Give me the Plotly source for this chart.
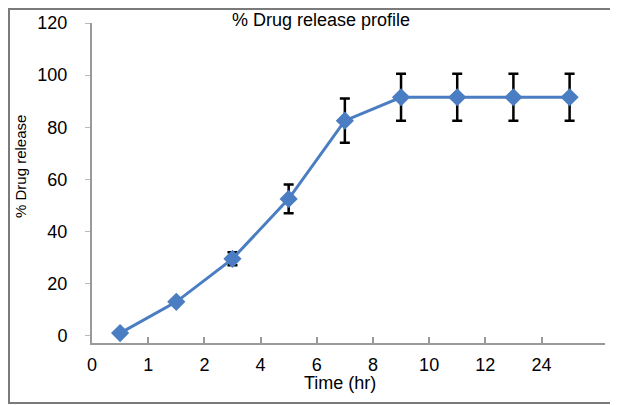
import plotly.graph_objects as go

time_labels = ["0", "1", "2", "4", "6", "8", "10", "12", "24"]
release = [1, 13, 29.5, 52.5, 82.5, 91.5, 91.5, 91.5, 91.5]
release_sd = [0, 0, 2.5, 5.5, 8.5, 9, 9, 9, 9]

# the page body has an 8px margin; the figure is sized to fill the rest
OFF = 8
W, H = 618 - OFF, 405 - OFF
ml, mr, mt, mb = 92 - OFF, 13, 23 - OFF, 62

idx = list(range(len(release)))
tick_pos = [i - 0.5 for i in range(len(time_labels))]

pw = W - ml - mr
ph = H - mt - mb


def px_x(p):
    return (p - OFF - ml) / pw


def px_y(p):
    return 1 - (p - OFF - mt) / ph


fig = go.Figure()
fig.add_trace(go.Scatter(
    x=idx, y=release,
    mode="lines+markers",
    line=dict(color="#4A7DC2", width=3),
    marker=dict(symbol="diamond", size=14, color="#4A7DC2"),
    error_y=dict(type="data", array=release_sd, visible=True,
                 color="black", thickness=2.5, width=5),
    cliponaxis=False,
    showlegend=False,
))

fig.add_shape(type="rect", xref="paper", yref="paper",
              x0=(1 - ml) / pw, x1=(W - 2 - ml) / pw,
              y0=1 - (H - 2 - mt) / ph, y1=1 - (1 - mt) / ph,
              line=dict(color="#7a7a7a", width=2), fillcolor="rgba(0,0,0,0)")

fig.add_annotation(text="% Drug release", textangle=-90, showarrow=False,
                   xref="paper", yref="paper", x=px_x(20), y=px_y(167),
                   xanchor="center", yanchor="middle", font=dict(size=15))
fig.add_annotation(text="Time (hr)", showarrow=False,
                   xref="paper", yref="paper", x=px_x(340), y=px_y(383),
                   xanchor="center", yanchor="middle", font=dict(size=18))

fig.update_layout(
    width=W, height=H,
    margin=dict(l=ml, r=mr, t=mt, b=mb),
    paper_bgcolor="white", plot_bgcolor="white",
    font=dict(family="Liberation Sans, Arial, sans-serif", color="black"),
    title=dict(text="% Drug release profile", x=(321 - OFF) / W, xref="container",
               xanchor="center", y=1 - (20 - OFF) / H, yref="container",
               yanchor="middle", font=dict(size=18, color="black")),
    xaxis=dict(
        range=[-0.5, 8.63], automargin=False,
        tickmode="array", tickvals=tick_pos, ticktext=time_labels,
        ticks="inside", ticklen=6, tickcolor="#999999", tickwidth=2,
        showline=True, linecolor="#999999", linewidth=2,
        showgrid=False, zeroline=False,
        tickfont=dict(size=18),
        ticklabelstandoff=4,
    ),
    yaxis=dict(
        range=[-2.8, 120], automargin=False,
        tickmode="array", tickvals=[0, 20, 40, 60, 80, 100, 120],
        ticks="outside", ticklen=5, tickcolor="#bbbbbb", tickwidth=1,
        showline=True, linecolor="#999999", linewidth=2,
        showgrid=False, zeroline=False,
        tickfont=dict(size=18),
        ticklabelstandoff=14,
    ),
)

fig.write_html("out.html")
